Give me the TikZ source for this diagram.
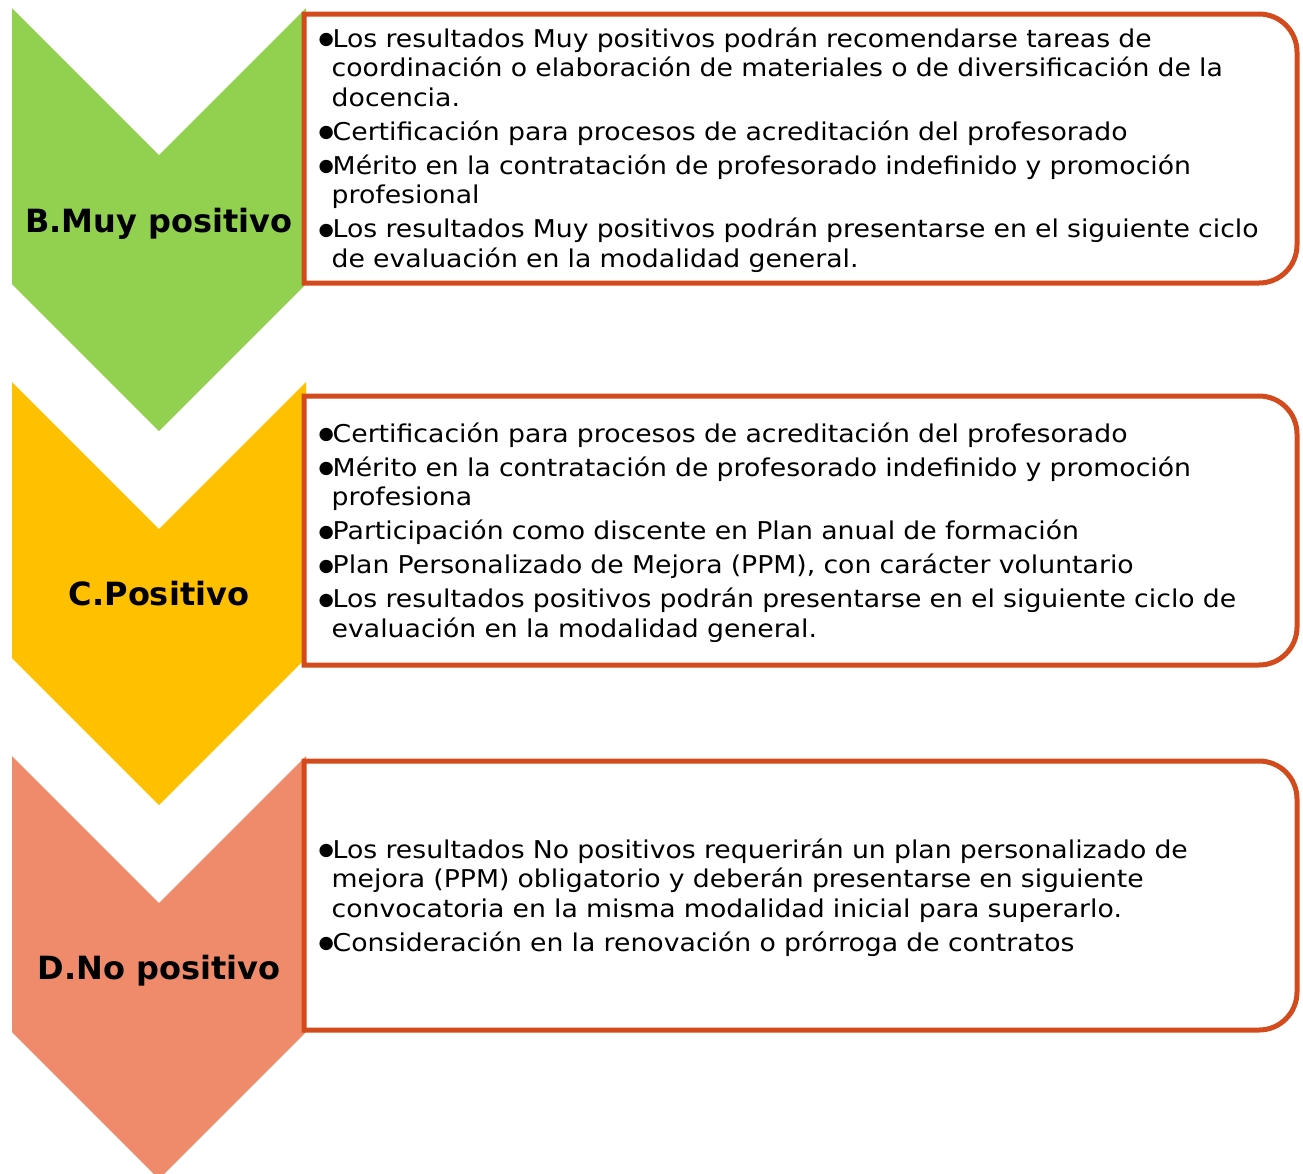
\documentclass[tikz,border=0pt]{standalone}
\usepackage{fontspec}
\setmainfont[FakeStretch=1.09]{DejaVu Sans}
\newfontfamily\rotulo{DejaVu Sans}
\usepackage{tikz}
\usetikzlibrary{positioning}
\definecolor{verde}{HTML}{92D050}
\definecolor{amarillo}{HTML}{FFC000}
\definecolor{salmon}{HTML}{EF8B6B}
\definecolor{borde}{HTML}{D34B1C}
\tikzset{
	caja/.style={draw=borde, line width=5pt, fill=white},
	etiqueta/.style={font=\rotulo\fontsize{32}{38}\selectfont\bfseries, inner sep=0pt, anchor=base},
	lista/.style={font=\fontsize{24.5}{29.5}\selectfont, text width=970pt, align=left, inner sep=0pt, anchor=base west}
}
\newcommand{\vineta}{\makebox[12.5pt][l]{\hspace{-1.5pt}\smash{\raisebox{2.4pt}{\rotulo\fontsize{17.5}{0}\selectfont ●}}}}
\newcommand{\sigue}{\hspace*{11.5pt}}
\newcommand{\flecha}[2]{\fill[#1] (12,#2) -- (159,#2+147) -- (306,#2) -- (306,#2+276) -- (159,#2+423) -- (12,#2+276) -- cycle;}
\newcommand{\marco}[2]{\draw[caja] (304,#1) -- (1259,#1) arc[start angle=-90, end angle=0, radius=38] -- (1297,#2-38) arc[start angle=0, end angle=90, radius=38] -- (304,#2) -- cycle;}

\begin{document}
\begin{tikzpicture}[x=1pt, y=-1pt]
	\useasboundingbox (0,0) rectangle (1303,1173);
	\flecha{verde}{8}
	\flecha{amarillo}{382}
	\flecha{salmon}{756}
	\marco{14}{283}
	\marco{396}{665}
	\marco{761}{1030}

	\node[etiqueta]	(B)	at	(159,232)	{B.Muy positivo};
	\node[etiqueta]	(C)	at	(159,605)	{C.Positivo};
	\node[etiqueta]	(D)	at	(159,979)	{D.No positivo};

	\node[lista]	(TB)	at	(320,47)	{\vineta Los resultados Muy positivos podrán recomendarse tareas de\\
		\sigue coordinación o elaboración de materiales o de diversificación de la\\
		\sigue docencia.\\[4.5pt]
		\vineta Certificación para procesos de acreditación del profesorado\\[4.5pt]
		\vineta Mérito en la contratación de profesorado indefinido y promoción\\
		\sigue profesional\\[4.5pt]
		\vineta Los resultados Muy positivos podrán presentarse en el siguiente ciclo\\
		\sigue de evaluación en la modalidad general.};

	\node[lista]	(TC)	at	(320,442)	{\vineta Certificación para procesos de acreditación del profesorado\\[4.5pt]
		\vineta Mérito en la contratación de profesorado indefinido y promoción\\
		\sigue profesiona\\[4.5pt]
		\vineta Participación como discente en Plan anual de formación\\[4.5pt]
		\vineta Plan Personalizado de Mejora (PPM), con carácter voluntario\\[4.5pt]
		\vineta Los resultados positivos podrán presentarse en el siguiente ciclo de\\
		\sigue evaluación en la modalidad general.};

	\node[lista]	(TD)	at	(320,858)	{\vineta Los resultados No positivos requerirán un plan personalizado de\\
		\sigue mejora (PPM) obligatorio y deberán presentarse en siguiente\\
		\sigue convocatoria en la misma modalidad inicial para superarlo.\\[4.5pt]
		\vineta Consideración en la renovación o prórroga de contratos};
\end{tikzpicture}
\end{document}
